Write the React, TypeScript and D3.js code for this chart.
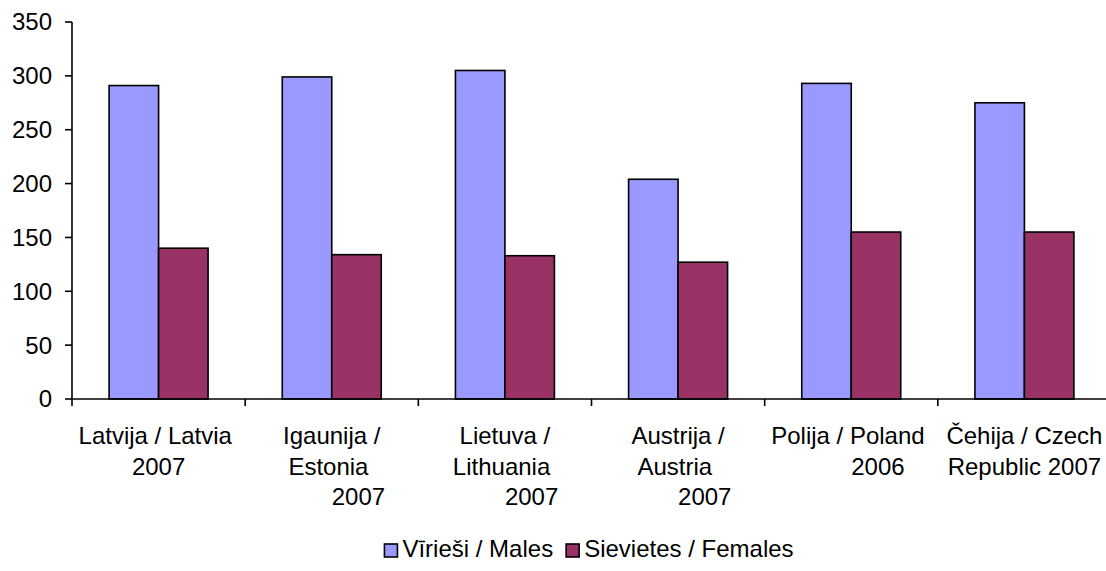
import React, { useEffect, useRef } from "react";
import * as d3 from "d3";

const categories: string[][] = [
  ["Latvija / Latvia ", "2007"],
  ["Igaunija /", "Estonia ", "        2007"],
  ["Lietuva /", "Lithuania ", "        2007"],
  ["Austrija /", "Austria ", "        2007"],
  ["Polija / Poland ", "        2006"],
  ["Čehija / Czech", "Republic 2007"],
];
const males = [291, 299, 305, 204, 293, 275];
const females = [140, 134, 133, 127, 155, 155];
const seriesNames = ["Vīrieši / Males", "Sievietes / Females"];
const seriesColors = ["#9999FF", "#993366"];
const yTicks = [0, 50, 100, 150, 200, 250, 300, 350];

const W = 1106;
const H = 571;
const FONT = "'Liberation Sans', Arial, sans-serif";

export default function App() {
  const ref = useRef<SVGSVGElement>(null);

  useEffect(() => {
    const svg = d3.select(ref.current);
    svg.selectAll("*").remove();

    const x0 = 72, x1 = 1111, y0 = 399, y1 = 22;
    const idx = categories.map((_, i) => String(i));
    const x = d3.scaleBand().domain(idx).range([x0, x1]).paddingInner(0).paddingOuter(0);
    const y = d3.scaleLinear().domain([0, 350]).range([y0, y1]);
    const groupFrac = 0.5716;
    const bw = (x.bandwidth() * groupFrac) / 2;

    const g = svg.append("g");

    const series = [males, females];
    series.forEach((vals, s) => {
      g.selectAll(`rect.s${s}`)
        .data(vals)
        .enter()
        .append("rect")
        .attr("x", (_, i) => (x(String(i)) as number) + (x.bandwidth() - 2 * bw) / 2 + s * bw)
        .attr("y", (d) => y(d))
        .attr("width", bw)
        .attr("height", (d) => y0 - y(d))
        .attr("fill", seriesColors[s])
        .attr("stroke", "#000")
        .attr("stroke-width", 1.6);
    });

    // y axis
    g.append("line").attr("x1", x0).attr("x2", x0).attr("y1", y1).attr("y2", y0)
      .attr("stroke", "#000").attr("stroke-width", 1.6);
    yTicks.forEach((t) => {
      g.append("line").attr("x1", x0 - 7).attr("x2", x0).attr("y1", y(t)).attr("y2", y(t))
        .attr("stroke", "#000").attr("stroke-width", 1.6);
      g.append("text").attr("x", 52).attr("y", y(t)).attr("dy", "0.35em")
        .attr("text-anchor", "end").attr("font-family", FONT).attr("font-size", 24)
        .attr("fill", "#000").text(String(t));
    });

    // x axis
    g.append("line").attr("x1", x0).attr("x2", W).attr("y1", y0).attr("y2", y0)
      .attr("stroke", "#000").attr("stroke-width", 1.6);
    idx.forEach((k) => {
      const xs = x(k) as number;
      g.append("line").attr("x1", xs).attr("x2", xs).attr("y1", y0).attr("y2", y0 + 7)
        .attr("stroke", "#000").attr("stroke-width", 1.6);
    });

    categories.forEach((lines, i) => {
      const cx = (x(String(i)) as number) + x.bandwidth() / 2;
      lines.forEach((ln, j) => {
        g.append("text").attr("x", cx).attr("y", 444 + j * 30.5)
          .attr("text-anchor", "middle").attr("font-family", FONT).attr("font-size", 24)
          .attr("fill", "#000").style("white-space", "pre").attr("xml:space", "preserve")
          .text(ln);
      });
    });

    // legend
    const lg = svg.append("g");
    let cur = 0;
    const items: { g: any; w: number }[] = [];
    seriesNames.forEach((n, s) => {
      const ig = lg.append("g").attr("transform", `translate(${cur},0)`);
      ig.append("rect").attr("x", 0).attr("y", -13).attr("width", 13).attr("height", 13)
        .attr("fill", seriesColors[s]).attr("stroke", "#000").attr("stroke-width", 1.6);
      const t = ig.append("text").attr("x", 18).attr("y", 0).attr("font-family", FONT)
        .attr("font-size", 24).attr("fill", "#000").text(n);
      const tw = (t.node() as SVGTextElement).getComputedTextLength();
      const w = 18 + tw;
      items.push({ g: ig, w });
      cur += w + 13;
    });
    const total = cur - 13;
    lg.attr("transform", `translate(${589 - total / 2},557)`);
  }, []);

  return (
    <svg
      ref={ref}
      width={W}
      height={H}
      style={{ position: "absolute", left: 0, top: 0, background: "#fff" }}
    />
  );
}
